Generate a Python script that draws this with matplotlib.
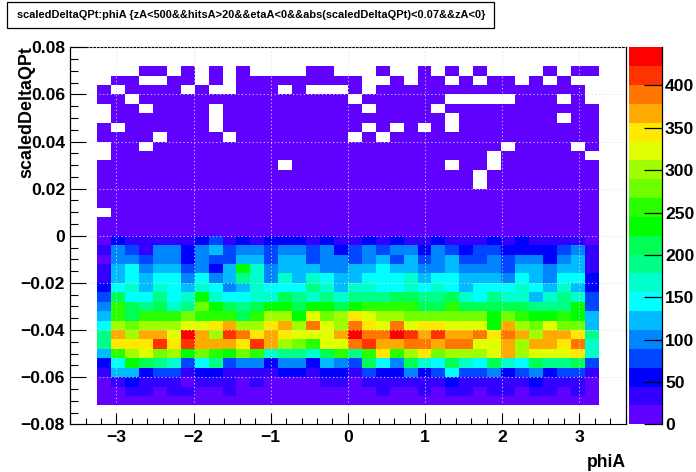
import numpy as np
import matplotlib
matplotlib.use("Agg")
import matplotlib.pyplot as plt
from matplotlib.colors import ListedColormap, BoundaryNorm
from matplotlib.patches import Rectangle
from matplotlib.ticker import MultipleLocator

plt.rcParams['font.family'] = ['Liberation Sans', 'DejaVu Sans']
plt.rcParams['font.weight'] = 'bold'

W, H = 696, 472

title = "scaledDeltaQPt:phiA {zA<500&&hitsA>20&&etaA<0&&abs(scaledDeltaQPt)<0.07&&zA<0}"
xlabel = "phiA"
ylabel = "scaledDeltaQPt"

# bin edges of the 2D histogram, 36 x 36
phi_range = (-3.25, 3.25)
delta_range = (-0.072, 0.072)
z_max = 445

palette = ['#6000ff', '#3300ff', '#0000ff', '#0045ff', '#0085ff', '#00bbff', '#00ffff',
           '#00ffcc', '#00ff88', '#00ff55', '#00ff00', '#28ff00', '#70ff00', '#9fff00',
           '#e0ff00', '#ffe900', '#ffaa00', '#ff7700', '#ff3300', '#ff0000']

# counts per cell, first row is the top of the plot, 0 = empty
counts = [
    [0,0,0,1,1,0,1,0,1,0,1,0,0,0,0,1,1,0,0,0,1,0,0,1,0,1,0,1,0,0,0,0,1,0,1,1],
    [0,1,1,0,0,1,1,0,1,0,1,1,1,1,1,1,1,1,1,0,0,1,0,1,1,0,1,0,1,1,0,1,0,1,0,0],
    [1,0,1,1,1,1,0,1,0,0,1,1,1,0,1,0,0,0,1,0,1,1,1,1,1,1,1,1,1,1,1,1,1,1,1,0],
    [2,2,0,2,2,2,2,2,2,2,2,2,2,2,2,2,2,2,0,2,2,2,2,2,2,0,0,0,0,0,2,2,2,0,2,0],
    [0,2,2,0,2,2,2,2,0,2,2,2,2,2,2,2,2,2,2,0,2,2,2,2,0,2,2,2,2,2,2,2,2,2,2,2],
    [0,2,2,2,2,2,2,2,0,2,2,2,2,2,2,2,2,2,2,2,2,2,2,2,2,0,2,2,2,2,2,2,2,0,2,2],
    [3,0,3,3,3,3,3,3,0,3,3,3,3,3,3,3,3,3,3,0,3,0,3,0,3,0,3,3,3,3,3,3,3,3,3,3],
    [3,3,3,3,0,3,3,3,3,0,3,3,3,3,3,3,3,3,0,3,0,3,3,3,3,3,3,3,3,3,3,3,3,3,3,3],
    [0,3,3,0,3,3,3,3,3,3,3,3,3,3,3,3,3,3,3,3,3,3,3,3,3,3,3,3,3,0,3,3,3,3,0,3],
    [0,4,4,4,4,4,4,4,4,4,4,4,4,4,4,4,4,4,4,4,4,4,4,4,4,4,4,4,0,4,4,4,4,4,4,0],
    [4,4,4,4,4,4,4,4,4,4,4,4,4,0,4,4,4,4,4,4,4,4,4,4,4,0,4,4,0,4,4,4,4,4,4,4],
    [5,5,5,5,5,5,5,5,5,5,5,5,5,5,5,5,5,5,5,5,5,5,5,5,5,5,5,0,5,5,5,5,5,5,5,5],
    [5,5,5,5,5,5,5,5,5,5,5,5,5,5,5,5,5,5,5,5,5,5,5,5,5,5,5,0,5,5,5,5,5,5,5,5],
    [6,6,6,6,6,6,6,6,6,6,6,6,6,6,6,6,6,6,6,6,6,6,6,6,6,6,6,6,6,6,6,6,6,6,6,6],
    [6,6,6,6,6,6,6,6,6,6,6,6,6,6,6,6,6,6,6,6,6,6,6,6,6,6,6,6,6,6,6,6,6,6,6,6],
    [0,7,7,7,7,7,7,7,7,7,7,7,7,7,7,7,7,7,7,7,7,7,7,7,7,7,7,7,7,7,7,7,7,7,7,7],
    [8,8,8,8,8,8,8,8,8,8,8,8,8,8,8,8,8,8,8,8,8,8,8,8,8,8,8,8,8,8,8,8,8,8,8,8],
    [9,9,9,9,9,9,9,9,9,9,9,9,9,9,9,9,9,9,9,9,9,9,9,9,9,9,9,9,9,9,9,9,9,9,9,9],
    [11,56,33,33,33,33,33,56,78,33,56,33,56,56,56,33,56,33,33,56,33,56,33,33,56,33,33,33,56,33,56,33,33,33,33,11],
    [33,100,78,33,100,100,56,100,122,78,100,100,78,100,100,78,100,56,78,100,78,100,100,56,100,78,56,78,78,56,56,56,56,78,100,33],
    [21,100,100,78,100,100,56,100,78,78,122,122,78,122,122,78,100,100,78,100,122,78,122,78,100,122,78,78,100,78,100,100,56,100,122,33],
    [33,122,145,100,122,122,78,100,56,122,234,167,100,122,122,122,100,100,122,122,145,122,122,100,100,122,100,100,100,78,122,122,100,122,122,33],
    [33,122,145,122,145,145,100,145,100,122,189,167,100,167,122,167,145,122,122,145,145,145,167,122,145,145,122,122,122,100,145,122,100,145,145,56],
    [56,145,167,122,167,145,122,167,145,100,122,167,145,145,145,189,167,122,167,167,145,145,167,145,167,145,122,145,145,145,167,145,122,167,122,56],
    [78,211,145,145,189,145,167,234,167,145,145,167,167,211,189,167,189,167,189,189,189,211,211,189,189,211,167,145,189,167,167,122,167,189,167,78],
    [100,256,211,189,211,167,189,278,234,211,189,211,234,234,211,234,234,211,234,256,256,256,256,211,211,256,211,211,211,211,211,189,189,189,234,78],
    [122,256,211,256,256,256,278,256,256,256,211,256,300,300,234,323,278,300,345,323,300,300,278,278,278,278,278,278,234,278,256,234,234,256,234,122],
    [145,300,278,300,300,300,323,323,345,367,300,300,345,367,300,389,323,300,389,345,323,389,323,345,345,323,323,323,234,367,300,278,323,278,278,122],
    [189,367,300,367,367,323,434,367,300,412,389,345,367,345,323,323,323,367,434,389,389,434,412,367,412,367,367,389,345,389,367,300,367,367,345,189],
    [189,345,345,345,412,345,412,367,367,367,345,412,367,300,278,256,323,323,389,412,367,367,389,389,367,389,389,323,323,367,300,367,367,345,389,167],
    [122,256,300,323,278,300,234,278,256,234,278,256,167,189,189,167,211,256,189,256,345,256,300,345,278,300,300,300,323,367,300,323,323,323,345,167],
    [56,145,234,211,189,167,78,145,189,78,100,100,56,100,100,56,122,100,78,211,145,100,211,167,145,211,167,145,211,167,145,211,189,189,211,78],
    [33,122,122,56,78,78,33,56,56,33,33,33,33,56,56,33,56,56,33,78,56,56,100,56,78,145,78,78,100,56,78,100,56,78,78,33],
    [11,33,56,33,33,33,11,33,33,33,11,33,11,11,11,11,33,33,11,33,33,33,33,33,33,56,33,33,33,33,33,56,33,33,33,11],
    [11,11,33,33,11,33,33,11,11,33,11,11,11,11,11,11,11,11,11,11,33,11,11,33,11,33,33,11,33,33,11,33,33,11,33,11],
    [8,8,8,8,8,8,8,8,8,8,8,8,8,8,8,8,8,8,8,8,8,8,8,8,8,8,8,8,8,8,8,8,8,8,8,8],
]

z = np.array(counts, dtype=float)[::-1]
z = np.ma.masked_equal(z, 0)
x_edges = np.linspace(phi_range[0], phi_range[1], z.shape[1] + 1)
y_edges = np.linspace(delta_range[0], delta_range[1], z.shape[0] + 1)

levels = np.linspace(0, z_max, len(palette) + 1)
cmap = ListedColormap(palette)
norm = BoundaryNorm(levels, cmap.N)

fig = plt.figure(figsize=(W / 100, H / 100), dpi=100)


def box(x0, y0, x1, y1):
    return [x0 / W, 1 - y1 / H, (x1 - x0) / W, (y1 - y0) / H]


ax = fig.add_axes(box(69.8, 47.3, 626, 424.3))
mesh = ax.pcolormesh(x_edges, y_edges, z, cmap=cmap, norm=norm, zorder=1)
ax.set_xlim(-3.605, 3.605)
ax.set_ylim(-0.08, 0.08)

ax.xaxis.set_major_locator(MultipleLocator(1))
ax.xaxis.set_minor_locator(MultipleLocator(0.2))
ax.yaxis.set_major_locator(MultipleLocator(0.02))
ax.yaxis.set_minor_locator(MultipleLocator(0.005))
ax.yaxis.set_major_formatter(lambda v, pos: ("%.2f" % abs(v) if abs(v) > 1e-9 else "0") if v >= -1e-9 else "\u2212%.2f" % abs(v))
ax.xaxis.set_major_formatter(lambda v, pos: "%d" % v if v >= 0 else "\u2212%d" % abs(v))

ax.tick_params(axis='x', which='major', direction='in', length=7.9, width=0.8, labelsize=12.6, pad=4)
ax.tick_params(axis='x', which='minor', direction='in', length=4.3, width=0.8)
ax.tick_params(axis='y', which='major', direction='in', length=11.5, width=0.8, labelsize=12.6, pad=3.5)
ax.tick_params(axis='y', which='minor', direction='in', length=5.8, width=0.8)
for t in ax.xaxis.get_major_ticks() + ax.yaxis.get_major_ticks():
    t.tick1line.set_zorder(4)

ax.grid(True, which='major', color='#dcdcdc', linewidth=0.75, linestyle=(0, (1, 2.5)), zorder=3)
ax.set_axisbelow(False)

for side in ['top', 'bottom']:
    ax.spines[side].set_linestyle((0, (3, 1)))
    ax.spines[side].set_linewidth(0.8)
for side in ['left', 'right']:
    ax.spines[side].set_linewidth(0.9)

# colour scale
cax = fig.add_axes(box(629, 47.3, 661.5, 424.3))
cb = fig.colorbar(mesh, cax=cax, ticks=np.arange(0, 401, 50), spacing='proportional')
cb.outline.set_visible(False)
cax.minorticks_off()
cax.tick_params(axis='y', which='major', direction='in', length=13, width=0.9, labelsize=12.6, pad=2.5, color='black')
cax.spines['right'].set_visible(True)
cax.spines['right'].set_linewidth(0.9)
cax.spines['right'].set_color('black')

# texts placed in pixels like the original canvas
fig.text(27 / W, 1 - 46 / H, ylabel, rotation=90, ha='center', va='top', fontsize=12.9, fontweight='bold')
fig.text(626 / W, 1 - 467 / H, xlabel, ha='right', va='baseline', fontsize=12.7, fontweight='bold')
fig.add_artist(Rectangle((6.5 / W, 1 - 28 / H), 487.5 / W, 25.5 / H, transform=fig.transFigure,
                         facecolor='white', edgecolor='black', linewidth=0.9))
fig.text(17 / W, 1 - 15.5 / H, title, ha='left', va='center', fontsize=7.9, fontweight='bold', zorder=5)

fig.savefig('out.png', dpi=100)
